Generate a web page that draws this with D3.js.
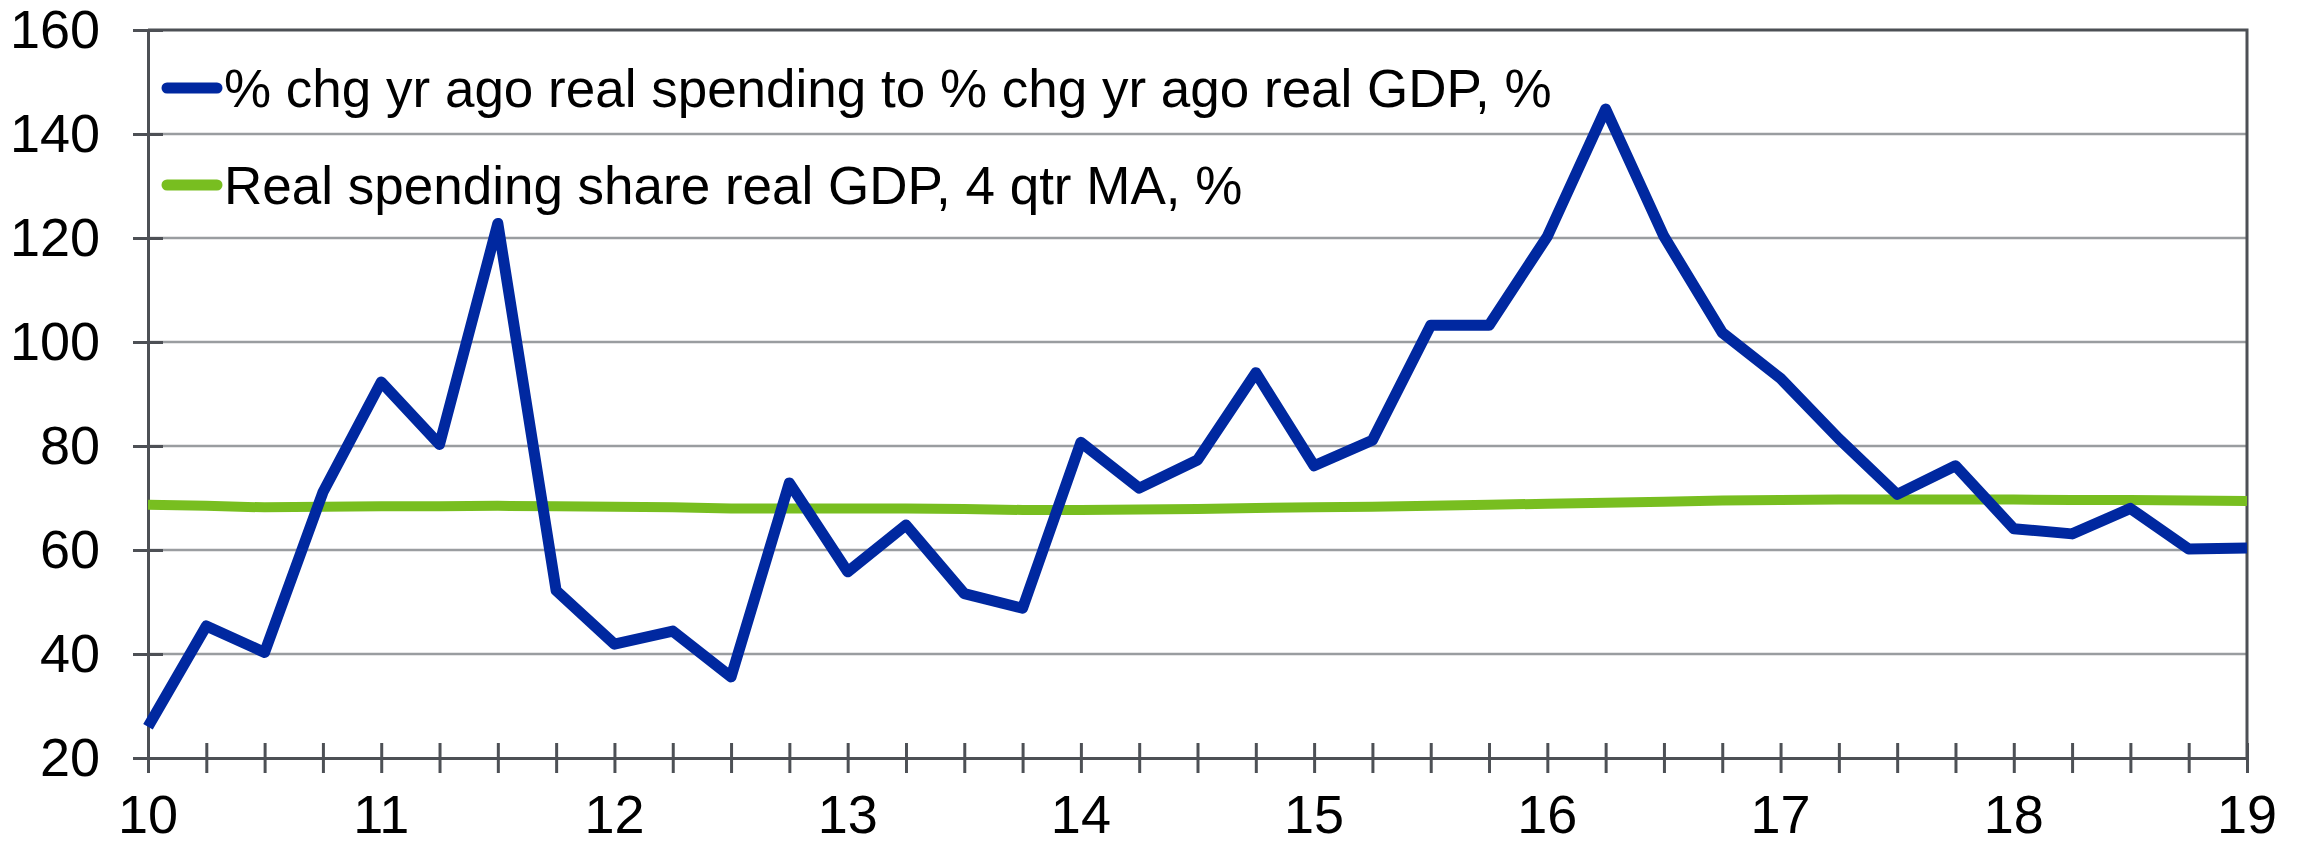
<!DOCTYPE html>
<html>
<head>
<meta charset="utf-8">
<script src="https://cdn.jsdelivr.net/npm/d3@7"></script>
<style>
  body { margin: 0; background: #fff; }
  svg { display: block; font-family: "Liberation Sans", Arial, sans-serif; }
</style>
</head>
<body>
<div id="chart"></div>
<script>
// quarters from 10Q1 to 19Q1, x value = year + (q - 1) / 4
const quarters = d3.range(0, 37).map(i => 10 + i / 4)

const spendingToGdp = [
  26.0, 45.4, 40.3, 71.1, 92.3, 80.3, 122.8, 52.2,
  41.9, 44.4, 35.6, 72.9, 55.8, 64.8, 51.6, 48.8,
  80.7, 71.9, 77.3, 94.1, 76.2, 81.1, 103.2, 103.2,
  120.3, 144.8, 120.3, 101.8, 93.0, 81.4, 70.7, 76.2,
  64.1, 63.1, 68.0, 60.2, 60.4
]

const spendingShare = [
  68.7, 68.5, 68.2, 68.3, 68.4, 68.4, 68.5, 68.4,
  68.3, 68.2, 68.0, 68.0, 68.0, 68.0, 67.9, 67.7,
  67.7, 67.8, 67.9, 68.1, 68.2, 68.3, 68.5, 68.7,
  68.9, 69.1, 69.3, 69.5, 69.6, 69.7, 69.7, 69.7,
  69.7, 69.6, 69.6, 69.5, 69.4
]

const yTicks = [20, 40, 60, 80, 100, 120, 140, 160]
const xLabels = [10, 11, 12, 13, 14, 15, 16, 17, 18, 19]

const seriesNames = [
  "% chg yr ago real spending to % chg yr ago real GDP, %",
  "Real spending share real GDP, 4 qtr MA, %"
]
const seriesColors = ["#0028a0", "#78be20"]

const width = 2302
const height = 845
const margin = {top: 30, right: 55, bottom: 87, left: 148}

const svg = d3.select("#chart").append("svg")
  .attr("width", width)
  .attr("height", height)

const x = d3.scaleLinear()
  .domain([10, 19])
  .range([margin.left, width - margin.right])

const y = d3.scaleLinear()
  .domain([20, 160])
  .range([height - margin.bottom, margin.top])

const axisColor = "#4d5055"
const gridColor = "#9a9da0"
const tickFont = 54
const legendFont = 53

// gridlines
svg.append("g")
  .selectAll("line")
  .data(yTicks.slice(1, -1))
  .join("line")
    .attr("x1", x(10))
    .attr("x2", x(19))
    .attr("y1", d => y(d))
    .attr("y2", d => y(d))
    .attr("stroke", gridColor)
    .attr("stroke-width", 2.5)

// frame (top + right) and axes
svg.append("path")
  .attr("d", `M${x(10)},${y(160)}H${x(19)}V${y(20)}`)
  .attr("fill", "none")
  .attr("stroke", axisColor)
  .attr("stroke-width", 3)

const yAxis = svg.append("g")
  .attr("transform", `translate(${x(10)},0)`)
  .call(d3.axisLeft(y).tickValues(yTicks).tickSize(0).tickPadding(48))
yAxis.select(".domain").attr("stroke", axisColor).attr("stroke-width", 3)
yAxis.selectAll(".tick line")
  .attr("x1", -15).attr("x2", 15)
  .attr("stroke", axisColor).attr("stroke-width", 3)
yAxis.selectAll(".tick text")
  .attr("font-size", tickFont)
  .attr("font-family", "Liberation Sans, Arial, sans-serif")
  .attr("fill", "#000")

const xAxis = svg.append("g")
  .attr("transform", `translate(0,${y(20)})`)
  .call(d3.axisBottom(x).tickValues(quarters).tickSize(0).tickPadding(0).tickFormat(""))
xAxis.select(".domain").attr("stroke", axisColor).attr("stroke-width", 3)
xAxis.selectAll(".tick line")
  .attr("y1", -15).attr("y2", 15)
  .attr("stroke", axisColor).attr("stroke-width", 3)

svg.append("g")
  .selectAll("text")
  .data(xLabels)
  .join("text")
    .attr("x", d => x(d))
    .attr("y", y(20) + 75)
    .attr("text-anchor", "middle")
    .attr("font-size", tickFont)
    .text(d => d)

// series lines
const line = d3.line()
  .x((d, i) => x(quarters[i]))
  .y(d => y(d))

svg.append("path")
  .datum(spendingShare)
  .attr("d", line)
  .attr("fill", "none")
  .attr("stroke", seriesColors[1])
  .attr("stroke-width", 10)
  .attr("stroke-linejoin", "round")

svg.append("path")
  .datum(spendingToGdp)
  .attr("d", line)
  .attr("fill", "none")
  .attr("stroke", seriesColors[0])
  .attr("stroke-width", 11)
  .attr("stroke-linejoin", "round")

// legend
const legend = svg.append("g")
  .selectAll("g")
  .data(seriesNames)
  .join("g")
    .attr("transform", (d, i) => `translate(167,${88 + i * 97})`)

legend.append("line")
  .attr("x1", 0)
  .attr("x2", 50)
  .attr("stroke", (d, i) => seriesColors[i])
  .attr("stroke-width", 11)
  .attr("stroke-linecap", "round")

legend.append("text")
  .attr("x", 57)
  .attr("y", 19)
  .attr("font-size", legendFont)
  .attr("fill", "#000")
  .text(d => d)
</script>
</body>
</html>
